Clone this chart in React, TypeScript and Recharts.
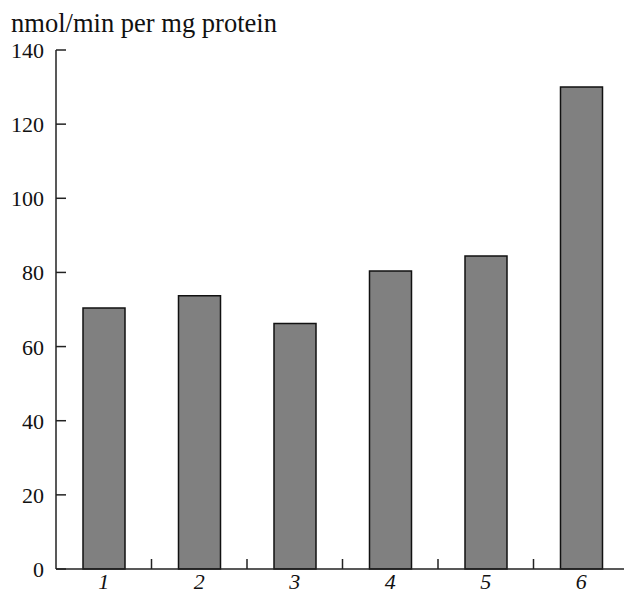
import { BarChart, Bar, XAxis, YAxis } from "recharts";

const categories = ["1", "2", "3", "4", "5", "6"];
const activity = [70.4, 73.7, 66.2, 80.4, 84.4, 130];
const yTicks = [0, 20, 40, 60, 80, 100, 120, 140];
const yTitle = "nmol/min per mg protein";

const data = categories.map((c, i) => ({ name: c, value: activity[i] }));

const FONT = "'Liberation Serif', 'Times New Roman', serif";
const BAND = 95.5;

function YTick(props: any) {
  const { y, payload } = props;
  return (
    <g>
      <line x1={56} y1={y} x2={66} y2={y} stroke="#222" strokeWidth={1.5} />
      <text x={44} y={y} dy={8} textAnchor="end" fill="#111" style={{ fontFamily: FONT, fontSize: 22 }}>
        {payload.value}
      </text>
    </g>
  );
}

function XTick(props: any) {
  const { x, payload, index } = props;
  return (
    <g>
      {index < categories.length - 1 && (
        <line x1={x + BAND / 2} y1={569} x2={x + BAND / 2} y2={559} stroke="#222" strokeWidth={1.5} />
      )}
      <text x={x} y={589} textAnchor="middle" fill="#111" style={{ fontFamily: FONT, fontSize: 22, fontStyle: "italic" }}>
        {payload.value}
      </text>
    </g>
  );
}

export default function App() {
  return (
    <div style={{ position: "fixed", left: 0, top: 0, width: 624, height: 595, background: "#fff", fontFamily: FONT }}>
      <svg width={624} height={50} style={{ position: "absolute", left: 0, top: 0, fontFamily: FONT }}>
        <text x={11} y={32} fill="#111" textLength={266} lengthAdjust="spacingAndGlyphs" style={{ fontFamily: FONT, fontSize: 27 }}>
          {yTitle}
        </text>
      </svg>
      <div style={{ position: "absolute", left: 0, top: 0, width: 624, height: 595, overflow: "hidden" }}>
        <BarChart
          width={630}
          height={595}
          data={data}
          margin={{ top: 50, right: 1, left: 0, bottom: 0 }}
          barSize={42}
          style={{ fontFamily: FONT }}
        >
          <XAxis
            dataKey="name"
            height={26}
            axisLine={{ stroke: "#222", strokeWidth: 1.5 }}
            tickLine={false}
            tick={<XTick />}
            interval={0}
          />
          <YAxis
            width={56}
            domain={[0, 140]}
            ticks={yTicks}
            axisLine={{ stroke: "#222", strokeWidth: 1.5 }}
            tickLine={false}
            tick={<YTick />}
            interval={0}
          />
          <Bar dataKey="value" fill="#808080" stroke="#111" strokeWidth={1.5} isAnimationActive={false} />
        </BarChart>
      </div>
    </div>
  );
}
